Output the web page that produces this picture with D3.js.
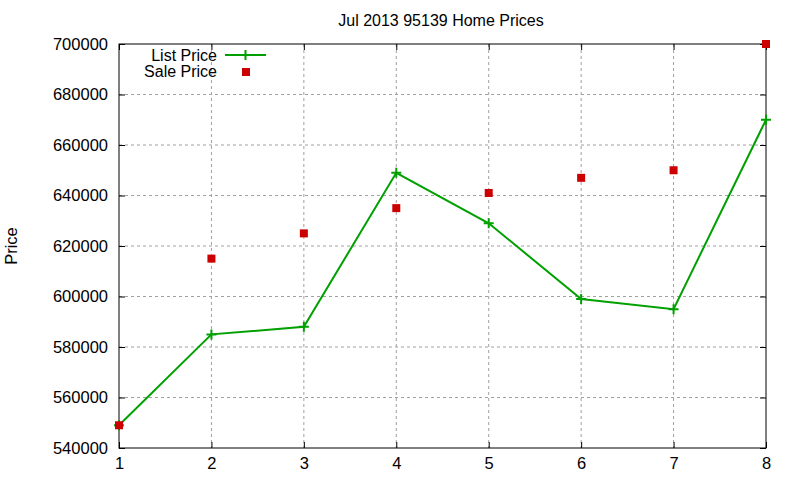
<!DOCTYPE html>
<html>
<head>
<meta charset="utf-8">
<script src="https://cdn.jsdelivr.net/npm/d3@7"></script>
<style>
  body { margin: 0; background: #fff; }
  text { font-family: "Liberation Sans", Arial, sans-serif; fill: #000; }
</style>
</head>
<body>
<div id="container"></div>
<script>
// data we work with
let weeks = [1, 2, 3, 4, 5, 6, 7, 8];
let listPrice = [549000, 585000, 588000, 649000, 629000, 599000, 595000, 670000];
let salePrice = [549000, 615000, 625000, 635000, 641000, 647000, 650000, 700000];
let yTicks = [540000, 560000, 580000, 600000, 620000, 640000, 660000, 680000, 700000];

let w = 800;
let h = 480;
let plotLeft = 119, plotRight = 766, plotTop = 44, plotBottom = 448;

let viz = d3.select("#container")
  .append("svg")
    .attr("width", w)
    .attr("height", h)
;

let xScale = d3.scaleLinear().domain([1, 8]).range([plotLeft, plotRight]);
let yScale = d3.scaleLinear().domain([540000, 700000]).range([plotBottom, plotTop]);

// grid
let grid = viz.append("g");
grid.selectAll("line.gx").data(weeks.slice(1, -1)).enter()
  .append("line")
    .attr("x1", d => xScale(d)).attr("x2", d => xScale(d))
    .attr("y1", plotTop).attr("y2", plotBottom)
    .attr("stroke", "#a0a0a0").attr("stroke-dasharray", "3,3");
grid.selectAll("line.gy").data(yTicks.slice(1, -1)).enter()
  .append("line")
    .attr("x1", plotLeft).attr("x2", plotRight)
    .attr("y1", d => yScale(d)).attr("y2", d => yScale(d))
    .attr("stroke", "#a0a0a0").attr("stroke-dasharray", "3,3");

// axes, ticks inward and mirrored
let xAxis = d3.axisBottom(xScale).tickValues(weeks).tickSize(-6).tickPadding(9).tickFormat(d3.format("d"));
let xAxisGroup = viz.append("g").attr("transform", "translate(0," + plotBottom + ")").call(xAxis);
let xTop = viz.append("g").attr("transform", "translate(0," + plotTop + ")")
  .call(d3.axisTop(xScale).tickValues(weeks).tickSize(-6).tickFormat(""));
let yAxis = d3.axisLeft(yScale).tickValues(yTicks).tickSize(-6).tickPadding(11).tickFormat(d3.format("d"));
let yAxisGroup = viz.append("g").attr("transform", "translate(" + plotLeft + ",0)").call(yAxis);
let yRight = viz.append("g").attr("transform", "translate(" + plotRight + ",0)")
  .call(d3.axisRight(yScale).tickValues(yTicks).tickSize(-6).tickFormat(""));

[xAxisGroup, xTop, yAxisGroup, yRight].forEach(function(g){
  g.select(".domain").remove();
  g.selectAll("line").attr("stroke", "#000");
  g.selectAll("text").attr("font-size", 16.5).attr("font-family", "Liberation Sans, Arial, sans-serif").attr("fill", "#000");
});

viz.append("rect")
  .attr("x", plotLeft).attr("y", plotTop)
  .attr("width", plotRight - plotLeft).attr("height", plotBottom - plotTop)
  .attr("fill", "none").attr("stroke", "#000");

// title and label
viz.append("text").attr("x", 441).attr("y", 26).attr("text-anchor", "middle")
  .attr("font-size", 16).text("Jul 2013 95139 Home Prices");
viz.append("text").attr("transform", "translate(17,246) rotate(-90)").attr("text-anchor", "middle")
  .attr("font-size", 16.5).text("Price");

let green = "#00a000", red = "#cc0000";

// list price line
let lineMaker = d3.line()
  .x((d, i) => xScale(weeks[i]))
  .y(d => yScale(d));
viz.append("path").datum(listPrice)
  .attr("d", lineMaker).attr("fill", "none").attr("stroke", green).attr("stroke-width", 2);

function plus(g, x, y) {
  g.append("path").attr("d", "M" + (x - 5) + "," + y + "H" + (x + 5) + "M" + x + "," + (y - 5) + "V" + (y + 5))
    .attr("stroke", green).attr("stroke-width", 2);
}
let pts = viz.append("g");
listPrice.forEach((d, i) => plus(pts, xScale(weeks[i]), yScale(d)));

// sale price squares
viz.append("g").selectAll("rect").data(salePrice).enter()
  .append("rect")
    .attr("x", (d, i) => xScale(weeks[i]) - 4)
    .attr("y", d => yScale(d) - 4)
    .attr("width", 8).attr("height", 8)
    .attr("fill", red);

// legend
let legend = viz.append("g");
legend.append("text").attr("x", 217).attr("y", 61).attr("text-anchor", "end").attr("font-size", 16).text("List Price");
legend.append("line").attr("x1", 225).attr("x2", 266).attr("y1", 55).attr("y2", 55).attr("stroke", green).attr("stroke-width", 2);
plus(legend, 245.5, 55);
legend.append("text").attr("x", 217).attr("y", 77).attr("text-anchor", "end").attr("font-size", 16).text("Sale Price");
legend.append("rect").attr("x", 242).attr("y", 68).attr("width", 8).attr("height", 8).attr("fill", red);
</script>
</body>
</html>
